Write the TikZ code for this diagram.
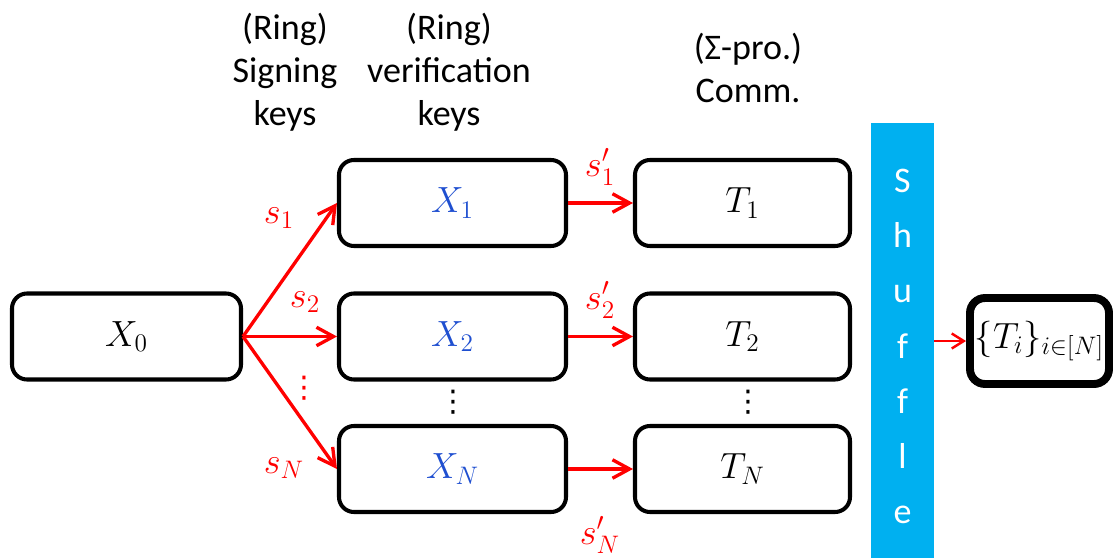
\documentclass[tikz,border=0pt]{standalone}
\usepackage{fontspec}
\setmainfont{Carlito}
\newfontfamily\dotsfont{DejaVu Sans}
\usetikzlibrary{arrows.meta}

\definecolor{keyred}{HTML}{FF0000}
\definecolor{keyblue}{HTML}{1F4FD0}
\definecolor{shufblue}{HTML}{00B0F0}

\tikzset{
  txt/.style={font=\fontsize{20.5}{24.5}\selectfont},
  vdot/.style={inner sep=0pt, font=\dotsfont\fontsize{17}{20}\selectfont},
  keybox/.style={draw=black, line width=2.3pt, rounded corners=0.3cm, minimum height=1.72cm, inner sep=0pt, txt},
  sarrow/.style={draw=keyred, line width=1.9pt, -{Straight Barb[length=3.4mm,width=3.7mm]}},
  slabel/.style={text=keyred, inner sep=0pt, txt},
  colhead/.style={align=center, inner sep=0pt, anchor=north, txt}
}

\begin{document}
\begin{tikzpicture}
  %%%%% START %%%%%
  \useasboundingbox (0, 0) rectangle (22.36, 11.16);

  % column headers
  \node[colhead] (hsign) at (5.70, 10.90) {(Ring)\\Signing\\keys};
  \node[colhead] (hver) at (8.98, 10.90) {(Ring)\\verification\\keys};
  \node[colhead] (hcomm) at (14.96, 10.50) {(Σ-pro.)\\Comm.};

  % keys
  \node[keybox, minimum width=4.58cm] (x0) at (2.53, 4.43) {$X_0$};
  \node[keybox, minimum width=4.54cm, text=keyblue] (x1) at (9.05, 7.10) {$X_1$};
  \node[keybox, minimum width=4.54cm, text=keyblue] (x2) at (9.05, 4.43) {$X_2$};
  \node[keybox, minimum width=4.54cm, text=keyblue] (xn) at (9.05, 1.78) {$X_N$};

  % commitments
  \node[keybox, minimum width=4.30cm] (t1) at (14.85, 7.10) {$T_1$};
  \node[keybox, minimum width=4.30cm] (t2) at (14.85, 4.43) {$T_2$};
  \node[keybox, minimum width=4.30cm] (tn) at (14.85, 1.78) {$T_N$};

  \node[vdot] (xdots) at (9.06, 3.12) {⋮};
  \node[vdot] (tdots) at (14.96, 3.12) {⋮};

  % shuffle bar and result
  \node[fill=shufblue, minimum width=1.26cm, minimum height=8.70cm, inner sep=0pt] (shuf) at (18.05, 4.35) {};
  \node[text=white, align=center, inner sep=0pt, font=\fontsize{20.5}{31.4}\selectfont] (shuftext) at (18.05, 4.23)
        {S\\h\\u\\f\\f\\l\\e};
  \node[keybox, line width=4.5pt, minimum width=2.78cm] (out) at (20.79, 4.34) {$\{T_i\}_{i\in[N]}$};

  % arrows
  \draw[sarrow] (x0.east) -- (x1.west);
  \draw[sarrow] (x0.east) -- (x2.west);
  \draw[sarrow] (x0.east) -- (xn.west);
  \draw[sarrow] (x1.east) -- (t1.west);
  \draw[sarrow] (x2.east) -- (t2.west);
  \draw[sarrow] (xn.east) -- (tn.west);
  \draw[sarrow, line width=1.4pt, -{Straight Barb[length=2.4mm,width=3mm]}] (shuf.east |- out) -- (out.west);

  % secrets on the arrows
  \node[slabel] (s1) at (5.58, 6.80) {$s_1$};
  \node[slabel] (s2) at (6.10, 5.12) {$s_2$};
  \node[vdot, text=keyred] (sdots) at (6.08, 3.40) {⋮};
  \node[slabel] (sn) at (5.68, 1.80) {$s_N$};
  \node[slabel] (s1p) at (12.00, 7.82) {$s'_1$};
  \node[slabel] (s2p) at (12.00, 5.16) {$s'_2$};
  \node[slabel] (snp) at (12.00, 0.46) {$s'_N$};

  %%%%% END %%%%%
\end{tikzpicture}
\end{document}
